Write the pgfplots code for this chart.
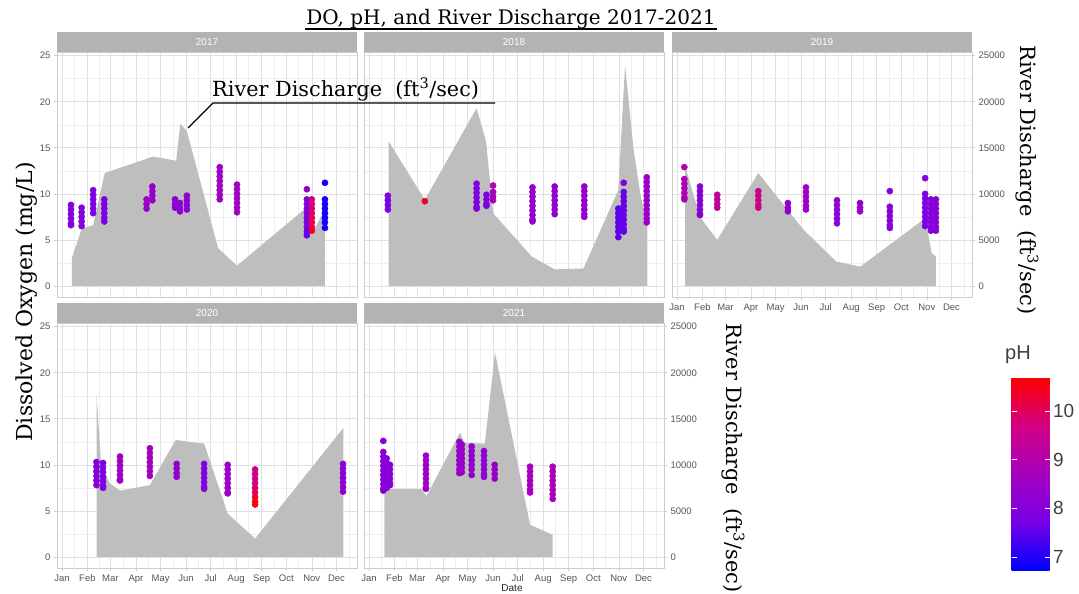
\documentclass[border=0pt]{standalone}
\usepackage{pgfplots}
\pgfplotsset{compat=1.18}
\usepackage{fontspec}
\setmainfont{DejaVu Serif}
\setsansfont{Liberation Sans}
\definecolor{areagray}{RGB}{190,190,190}
\definecolor{stripgray}{RGB}{179,179,179}
\definecolor{gridmaj}{RGB}{224,224,224}
\definecolor{gridmin}{RGB}{238,238,238}
\definecolor{bordergray}{RGB}{205,205,205}
\definecolor{ticklab}{RGB}{85,85,85}
\newcommand{\strip}[1]{\sffamily\fontsize{10}{12}\selectfont #1}
\pgfplotsset{
  colormap={ph}{rgb255=(0,0,255) rgb255=(120,0,230) rgb255=(165,0,190) rgb255=(210,0,130) rgb255=(255,0,0)},
  panel/.style={
    width=300pt, height=245pt, scale only axis, anchor=north west,
    xmin=-6, xmax=359, ymin=-1.2, ymax=25.4,
    xtick={0,31,59,90,120,151,181,212,243,273,304,334},
    minor xtick={15,45,74,105,135,166,196,227,258,288,319,349},
    ytick={0,5,10,15,20,25},
    minor ytick={2.5,7.5,12.5,17.5,22.5},
    grid=both,
    major grid style={draw=gridmaj, line width=0.6pt},
    minor grid style={draw=gridmin, line width=0.45pt},
    axis line style={draw=bordergray, line width=0.8pt},
    tick align=outside, major tick length=3pt, minor tick length=0pt,
    tick style={draw=bordergray, line width=0.6pt},
    xtick pos=bottom, ytick pos=left,
    xticklabels={}, yticklabels={},
    tick label style={font=\sffamily\fontsize{9.5}{10}\selectfont, text=ticklab},
    colormap name=ph, point meta min=6.73, point meta max=10.69,
    title style={at={(0.5,1)}, anchor=south, yshift=-6pt, fill=stripgray, text=white,
      minimum width=300pt, minimum height=19.5pt, inner sep=0pt},
  },
  months/.style={xticklabels={Jan,Feb,Mar,Apr,May,Jun,Jul,Aug,Sep,Oct,Nov,Dec}},
  leftnum/.style={yticklabels={0,5,10,15,20,25}},
  rightnum/.style={ytick pos=right, yticklabel pos=right, yticklabels={0,5000,10000,15000,20000,25000}},
  dots/.style={scatter, only marks, mark=*, mark size=3.1pt, point meta=explicit,
    scatter/use mapped color={draw=mapped color, fill=mapped color}},
  flow/.style={fill=areagray, draw=none},
}
\begin{document}
\begin{tikzpicture}
% ---------- 2017 ----------
\begin{axis}[panel, at={(57pt,-52pt)}, title={\strip{2017}}, leftnum, xmajorticks=false]
\addplot[flow] coordinates {(12,0) (12,3.0) (24,6.2) (38,6.6) (52,12.25) (111,14.05) (139,13.6) (144,17.6) (152,16.8) (190,4.1) (213,2.2) (296,8.4) (304,5.6) (318,8.0) (320,8.0) (320,0)} \closedcycle;
\addplot[dots] coordinates {
(11,8.8)[8.0] (11,8.3)[8.0] (11,7.8)[8.0] (11,7.3)[8.0] (11,6.8)[8.0] (11,6.6)[8.0]
(24,8.5)[8.0] (24,8.0)[8.0] (24,7.5)[8.0] (24,7.0)[8.0] (24,6.5)[8.0]
(38,10.4)[7.8] (38,9.9)[7.8] (38,9.4)[7.8] (38,8.9)[7.8] (38,8.4)[7.8] (38,7.9)[7.8]
(51.5,9.4)[7.8] (51.5,8.9)[7.8] (51.5,8.4)[7.8] (51.5,7.9)[7.8] (51.5,7.4)[7.8] (51.5,7.0)[7.8]
(103,9.4)[8.5] (103,8.9)[8.5] (103,8.4)[8.5]
(110,10.8)[8.4] (110,10.3)[8.4] (110,9.8)[8.4] (110,9.3)[8.4]
(137.6,9.4)[8.1] (137.6,8.9)[8.1] (137.6,8.5)[8.1]
(143.6,9.0)[8.2] (143.6,8.5)[8.2] (143.6,8.1)[8.2]
(152,9.8)[8.2] (152,9.3)[8.2] (152,8.8)[8.2] (152,8.3)[8.2]
(192,12.9)[8.6] (192,12.4)[8.6] (192,11.9)[8.6] (192,11.4)[8.6] (192,10.9)[8.6] (192,10.4)[8.6] (192,9.9)[8.6] (192,9.4)[8.6]
(213,11.0)[8.6] (213,10.5)[8.6] (213,10.0)[8.6] (213,9.5)[8.6] (213,9.0)[8.6] (213,8.5)[8.6] (213,8.0)[8.6]
(298,10.5)[8.3] (298,9.4)[8.0] (298,8.9)[7.9] (298,8.4)[7.9] (298,7.9)[7.9] (298,7.4)[7.8] (298,6.9)[7.7] (298,6.4)[7.7] (298,5.9)[7.6] (298,5.5)[7.6]
(304,9.4)[9.6] (304,8.9)[9.7] (304,8.4)[9.8] (304,7.9)[9.9] (304,7.4)[10.0] (304,6.9)[10.1] (304,6.4)[10.2] (304,6.0)[10.3]
(320,11.2)[6.9] (320,9.4)[6.9] (320,8.9)[6.9] (320,8.4)[6.9] (320,7.9)[6.9] (320,7.4)[6.9] (320,6.9)[6.9] (320,6.3)[6.9]
};
\end{axis}
% ---------- 2018 ----------
\begin{axis}[panel, at={(364pt,-52pt)}, title={\strip{2018}}, xmajorticks=false, ymajorticks=false]
\addplot[flow] coordinates {(24,0) (24,15.7) (68,9.35) (131,19.3) (142.5,15.7) (151,7.9) (198,3.2) (226,1.8) (261,1.9) (303.4,10.4) (311.6,24.0) (322,14.8) (330,10.1) (338.7,6.5) (338.7,0)} \closedcycle;
\addplot[dots] coordinates {
(23,9.8)[7.8] (23,9.3)[7.8] (23,8.8)[7.8] (23,8.3)[7.8]
(68,9.2)[10.3]
(131,11.1)[7.9] (131,10.6)[7.9] (131,10.1)[7.9] (131,9.6)[7.9] (131,9.1)[7.9] (131,8.6)[7.9] (131,8.4)[7.9]
(143,9.9)[7.9] (143,9.4)[7.9] (143,8.9)[7.9] (143,8.7)[7.9]
(151,10.9)[9.0] (151,10.2)[8.7] (151,9.7)[8.7] (151,9.3)[8.7]
(199,10.7)[8.4] (199,10.2)[8.4] (199,9.7)[8.4] (199,9.2)[8.4] (199,8.7)[8.4] (199,8.2)[8.4] (199,7.7)[8.4] (199,7.2)[8.4] (199,7.0)[8.4]
(226,10.8)[8.3] (226,10.3)[8.3] (226,9.8)[8.3] (226,9.3)[8.3] (226,8.8)[8.3] (226,8.3)[8.3] (226,7.8)[8.3]
(262,10.8)[8.4] (262,10.3)[8.4] (262,9.8)[8.4] (262,9.3)[8.4] (262,8.8)[8.4] (262,8.3)[8.4] (262,7.8)[8.4] (262,7.5)[8.4]
(303.4,8.4)[7.5] (303.4,7.9)[7.5] (303.4,7.4)[7.5] (303.4,6.9)[7.5] (303.4,6.4)[7.5] (303.4,5.9)[7.5] (303.4,5.3)[7.5]
(310,11.2)[7.9] (310,10.2)[7.6] (310,9.7)[7.6] (310,9.2)[7.6] (310,8.7)[7.6] (310,8.2)[7.6] (310,7.7)[7.6] (310,7.2)[7.6] (310,6.7)[7.6] (310,6.2)[7.6] (310,5.9)[7.6]
(338,11.8)[8.5] (338,11.3)[8.5] (338,10.8)[8.5] (338,10.3)[8.5] (338,9.8)[8.5] (338,9.3)[8.5] (338,8.8)[8.5] (338,8.3)[8.5] (338,7.8)[8.5] (338,7.3)[8.5] (338,6.9)[8.5]
};
\end{axis}
% ---------- 2019 ----------
\begin{axis}[panel, at={(672pt,-52pt)}, title={\strip{2019}}, months, rightnum]
\addplot[flow] coordinates {(10,0) (10,13.0) (28,7.5) (49,5.0) (99,12.25) (154,6.1) (194,2.65) (223,2.1) (302,7.35) (310,3.55) (315,3.2) (315,0)} \closedcycle;
\addplot[dots] coordinates {
(9,12.9)[8.9] (9,11.6)[8.9] (9,11.1)[8.9] (9,10.6)[8.9] (9,10.1)[8.9] (9,9.6)[8.9] (9,9.4)[8.9]
(28,10.8)[8.1] (28,10.3)[8.1] (28,9.8)[8.1] (28,9.3)[8.1] (28,8.8)[8.1] (28,8.3)[8.1] (28,7.8)[8.1] (28,7.7)[8.1]
(49,9.9)[9.3] (49,9.4)[9.3] (49,8.9)[9.3] (49,8.5)[9.3]
(99,10.3)[9.6] (99,9.8)[9.6] (99,9.3)[9.6] (99,8.8)[9.6] (99,8.5)[9.6]
(135,9.0)[8.3] (135,8.5)[8.3] (135,8.1)[8.3]
(157,10.7)[8.6] (157,10.2)[8.6] (157,9.7)[8.6] (157,9.2)[8.6] (157,8.7)[8.6] (157,8.3)[8.6]
(194.7,9.3)[8.2] (194.7,8.8)[8.2] (194.7,8.3)[8.2] (194.7,7.8)[8.2] (194.7,7.3)[8.2] (194.7,6.8)[8.2]
(222.7,9.0)[8.4] (222.7,8.5)[8.4] (222.7,8.1)[8.4]
(259,10.3)[8.1] (259,8.6)[8.1] (259,8.1)[8.1] (259,7.6)[8.1] (259,7.1)[8.1] (259,6.6)[8.1] (259,6.3)[8.1]
(302,11.7)[8.0] (302,10.0)[7.9] (302,9.5)[7.9] (302,9.0)[7.9] (302,8.5)[7.9] (302,8.0)[7.8] (302,7.5)[7.8] (302,7.0)[7.8] (302,6.5)[7.8]
(309,9.4)[8.0] (309,8.9)[8.0] (309,8.4)[8.0] (309,7.9)[8.0] (309,7.4)[8.0] (309,6.9)[8.0] (309,6.4)[8.0] (309,6.0)[8.0]
(315,9.4)[8.1] (315,8.9)[8.1] (315,8.4)[8.1] (315,7.9)[8.1] (315,7.4)[8.1] (315,6.9)[8.1] (315,6.4)[8.1] (315,6.0)[8.1]
};
\end{axis}
% ---------- 2020 ----------
\begin{axis}[panel, at={(57pt,-323pt)}, title={\strip{2020}}, months, leftnum]
\addplot[flow] coordinates {(42.3,0) (42.3,17.5) (47.5,10.2) (58,8.0) (70.6,7.2) (107,7.8) (138.4,12.7) (173,12.3) (201.7,4.7) (235,2.0) (342.3,14.0) (342.3,0)} \closedcycle;
\addplot[dots] coordinates {
(42,10.3)[8.1] (42,9.8)[8.1] (42,9.3)[8.1] (42,8.8)[8.1] (42,8.3)[8.1] (42,7.8)[8.1]
(50,10.2)[7.8] (50,9.7)[7.8] (50,9.2)[7.8] (50,8.7)[7.8] (50,8.2)[7.8] (50,7.7)[7.8] (50,7.5)[7.8]
(70.6,10.9)[8.5] (70.6,10.4)[8.5] (70.6,9.9)[8.5] (70.6,9.4)[8.5] (70.6,8.9)[8.5] (70.6,8.4)[8.5] (70.6,8.3)[8.5]
(107,11.8)[8.7] (107,11.3)[8.7] (107,10.8)[8.7] (107,10.3)[8.7] (107,9.8)[8.7] (107,9.3)[8.7] (107,8.8)[8.7]
(139.6,10.1)[8.3] (139.6,9.6)[8.3] (139.6,9.1)[8.3] (139.6,8.7)[8.3]
(173,10.1)[7.9] (173,9.6)[7.9] (173,9.1)[7.9] (173,8.6)[7.9] (173,8.1)[7.9] (173,7.6)[7.9] (173,7.4)[7.9]
(201.7,10.0)[8.5] (201.7,9.5)[8.5] (201.7,9.0)[8.5] (201.7,8.5)[8.5] (201.7,8.0)[8.5] (201.7,7.5)[8.5] (201.7,7.0)[8.5] (201.7,6.9)[8.5]
(235,9.5)[9.6] (235,9.0)[9.6] (235,8.5)[9.7] (235,8.0)[9.7] (235,7.5)[9.8] (235,7.0)[9.9] (235,6.5)[10.4] (235,6.0)[10.6] (235,5.7)[10.6]
(342,10.1)[8.2] (342,9.6)[8.2] (342,9.1)[8.2] (342,8.6)[8.2] (342,8.1)[8.2] (342,7.6)[8.2] (342,7.1)[8.2]
};
\end{axis}
% ---------- 2021 ----------
\begin{axis}[panel, at={(364pt,-323pt)}, title={\strip{2021}}, months, rightnum]
\addplot[flow] coordinates {(18.7,0) (18.7,7.4) (64,7.4) (70,6.6) (110.8,13.5) (116,12.4) (141,12.3) (153.4,22.2) (196,3.5) (223.6,2.4) (223.6,0)} \closedcycle;
\addplot[dots] coordinates {
(17.5,12.6)[8.1] (17.5,11.4)[8.1] (17.5,10.9)[8.1] (17.5,10.4)[8.1] (17.5,9.9)[8.1] (17.5,9.4)[8.1] (17.5,8.9)[8.1] (17.5,8.4)[8.1] (17.5,7.9)[8.1] (17.5,7.4)[8.1] (17.5,7.2)[8.1]
(21.6,10.7)[8.0] (21.6,10.2)[8.0] (21.6,9.7)[8.0] (21.6,9.2)[8.0] (21.6,8.7)[8.0] (21.6,8.2)[8.0] (21.6,7.7)[8.0] (21.6,7.5)[8.0]
(25.6,10.0)[8.1] (25.6,9.5)[8.1] (25.6,9.0)[8.1] (25.6,8.5)[8.1] (25.6,8.0)[8.1] (25.6,7.8)[8.1]
(69.4,11.0)[8.6] (69.4,10.5)[8.6] (69.4,10.0)[8.6] (69.4,9.5)[8.6] (69.4,9.0)[8.6] (69.4,8.5)[8.6] (69.4,8.0)[8.6] (69.4,7.5)[8.6] (69.4,7.4)[8.6]
(110,12.5)[8.4] (110,12.0)[8.4] (110,11.5)[8.4] (110,11.0)[8.4] (110,10.5)[8.4] (110,10.0)[8.4] (110,9.5)[8.4] (110,9.1)[8.4]
(113,12.2)[8.4] (113,11.7)[8.4] (113,11.2)[8.4] (113,10.7)[8.4] (113,10.2)[8.4] (113,9.7)[8.4] (113,9.2)[8.4]
(125,12.0)[8.3] (125,11.5)[8.3] (125,11.0)[8.3] (125,10.5)[8.3] (125,10.0)[8.3] (125,9.5)[8.3] (125,8.9)[8.3]
(140,11.5)[8.2] (140,11.0)[8.2] (140,10.5)[8.2] (140,10.0)[8.2] (140,9.5)[8.2] (140,9.0)[8.2] (140,8.7)[8.2]
(153,10.0)[8.4] (153,9.5)[8.4] (153,9.0)[8.4] (153,8.5)[8.4]
(196,9.8)[8.7] (196,9.3)[8.7] (196,8.8)[8.7] (196,8.3)[8.7] (196,7.8)[8.7] (196,7.3)[8.7] (196,7.0)[8.7]
(223.6,9.8)[8.8] (223.6,9.3)[8.8] (223.6,8.8)[8.8] (223.6,8.3)[8.8] (223.6,7.8)[8.8] (223.6,7.3)[8.8] (223.6,6.8)[8.8] (223.6,6.3)[8.8]
};
\end{axis}
% ---------- colour bar ----------
\begin{axis}[at={(1003pt,-570pt)}, anchor=south west, width=38pt, height=192.5pt,
  scale only axis, hide axis, xmin=0, xmax=1, ymin=0, ymax=1,
  colormap name=ph, point meta min=6.73, point meta max=10.69, colorbar,
  colorbar/width=38pt,
  colorbar style={at={(parent axis.south west)}, anchor=south west,
    width=38pt, height=192.5pt, scale only axis,
    ytick={7,8,9,10}, yticklabels={7,8,9,10}, yticklabel pos=right, ytick pos=both,
    tick align=inside, major tick length=5pt,
    ytick style={draw=white, line width=0.7pt},
    axis line style={draw=none},
    yticklabel style={font=\sffamily\fontsize{19}{20}\selectfont, text=black!75}}]
\addplot[draw=none] coordinates {(0,0)};
\end{axis}
% ---------- texts ----------
\node[anchor=base, font=\fontsize{20}{24}\selectfont, inner sep=0pt] at (511pt,-25pt) {DO, pH, and River Discharge 2017-2021};
\draw[line width=1.2pt] (305pt,-29pt) -- (717pt,-29pt);
\draw[line width=1.1pt] (188pt,-128pt) -- (213pt,-103pt) -- (495pt,-103pt);
\node[anchor=base west, font=\fontsize{20.8}{24}\selectfont, inner sep=0pt] at (212pt,-96pt) {River Discharge\ \ (ft\textsuperscript{3}/sec)};
\node[rotate=90, font=\fontsize{22}{26}\selectfont, inner sep=0pt] at (27pt,-302pt) {Dissolved Oxygen (mg/L)};
\node[rotate=-90, font=\fontsize{21}{26}\selectfont, inner sep=0pt] at (1027pt,-180pt) {River Discharge\ \ (ft\textsuperscript{3}/sec)};
\node[rotate=-90, font=\fontsize{21}{26}\selectfont, inner sep=0pt] at (733pt,-458pt) {River Discharge\ \ (ft\textsuperscript{3}/sec)};
\node[anchor=north, font=\sffamily\fontsize{10}{12}\selectfont, text=black!85, inner sep=0pt] at (512pt,-584pt) {Date};
\node[font=\sffamily\fontsize{20}{22}\selectfont, text=black!75] at (1018pt,-355pt) {pH};
\pgfresetboundingbox
\path[use as bounding box] (0pt,0pt) rectangle (1079pt,-594pt);
\end{tikzpicture}
\end{document}
